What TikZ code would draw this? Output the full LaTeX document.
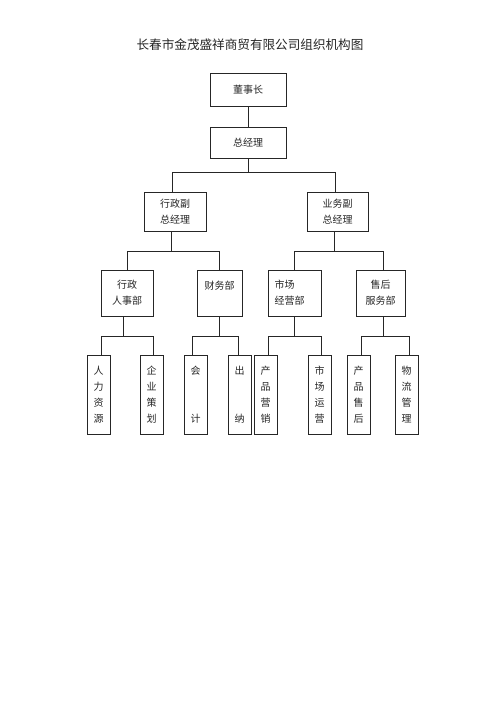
\documentclass[tikz,border=0pt]{standalone}
\usepackage{fontspec}
\newfontfamily\cjk{Noto Sans CJK SC}
\begin{document}
\begin{tikzpicture}[x=1pt,y=-1pt,
  box/.style={draw=black!85, line width=0.8pt, inner sep=0pt, align=center,
    font=\cjk\fontsize{10}{16}\selectfont, text=black!85},
  leaf/.style={box, minimum width=23pt, minimum height=79pt},
  conn/.style={draw=black!85, line width=0.8pt}]
\useasboundingbox[fill=white] (0,0) rectangle (500,708);
\node[font=\cjk\fontsize{12.6}{14}\selectfont, text=black!85] (title) at (250,45) {长春市金茂盛祥商贸有限公司组织机构图};
% level 0/1
\node[box, minimum width=76pt, minimum height=33pt] (ceo) at (248,89.5) {董事长};
\node[box, minimum width=76pt, minimum height=31pt] (gm) at (248,142.5) {总经理};
% level 2
\node[box, minimum width=62pt, minimum height=39pt] (vp1) at (175,211.5) {行政副\\总经理};
\node[box, minimum width=61pt, minimum height=39pt] (vp2) at (337.5,211.5) {业务副\\总经理};
% level 3
\node[box, minimum width=52pt, minimum height=46pt] (d1) at (127,293) {行政\\人事部};
\node[box, minimum width=45pt, minimum height=46pt] (d2) at (219.5,293) {财务部\\\mbox{}};
\node[box, minimum width=53pt, minimum height=46pt, text width=40pt, align=left] (d3) at (294.5,293) {市场\\经营部};
\node[box, minimum width=49pt, minimum height=46pt] (d4) at (380.5,293) {售后\\服务部};
% leaves
\node[leaf] (l1) at (98.5,394.5) {人\\力\\资\\源};
\node[leaf] (l2) at (151.5,394.5) {企\\业\\策\\划};
\node[leaf] (l3) at (195.5,394.5) {会\\[32pt]计};
\node[leaf] (l4) at (239.5,394.5) {出\\[32pt]纳};
\node[leaf] (l5) at (265.5,394.5) {产\\品\\营\\销};
\node[leaf] (l6) at (319.5,394.5) {市\\场\\运\\营};
\node[leaf] (l7) at (358.5,394.5) {产\\品\\售\\后};
\node[leaf] (l8) at (406.5,394.5) {物\\流\\管\\理};
% connectors
\draw[conn] (ceo.south) -- (gm.north);
\draw[conn] (gm.south) -- ++(0,14) coordinate (b0);
\draw[conn] (b0) -| ([xshift=-3pt]vp1.north);
\draw[conn] (b0) -| ([xshift=-2.5pt]vp2.north);
\draw[conn] ([xshift=-4pt]vp1.south) -- ++(0,20) coordinate (b1);
\draw[conn] (b1) -| (d1.north);
\draw[conn] (b1) -| (d2.north);
\draw[conn] ([xshift=-3.5pt]vp2.south) -- ++(0,20) coordinate (b2);
\draw[conn] (b2) -| (d3.north);
\draw[conn] (b2) -| ([xshift=2.5pt]d4.north);
\draw[conn] ([xshift=-4pt]d1.south) -- ++(0,20) coordinate (c1);
\draw[conn] (c1) -| ([xshift=2.5pt]l1.north);
\draw[conn] (c1) -| ([xshift=1.5pt]l2.north);
\draw[conn] (d2.south) -- ++(0,20) coordinate (c2);
\draw[conn] (c2) -| ([xshift=-3.5pt]l3.north);
\draw[conn] (c2) -| ([xshift=-1.5pt]l4.north);
\draw[conn] (d3.south) -- ++(0,20) coordinate (c3);
\draw[conn] (c3) -| ([xshift=2.5pt]l5.north);
\draw[conn] (c3) -| ([xshift=1.5pt]l6.north);
\draw[conn] ([xshift=2.5pt]d4.south) -- ++(0,20) coordinate (c4);
\draw[conn] (c4) -| ([xshift=2.5pt]l7.north);
\draw[conn] (c4) -| ([xshift=2.5pt]l8.north);
\end{tikzpicture}
\end{document}
